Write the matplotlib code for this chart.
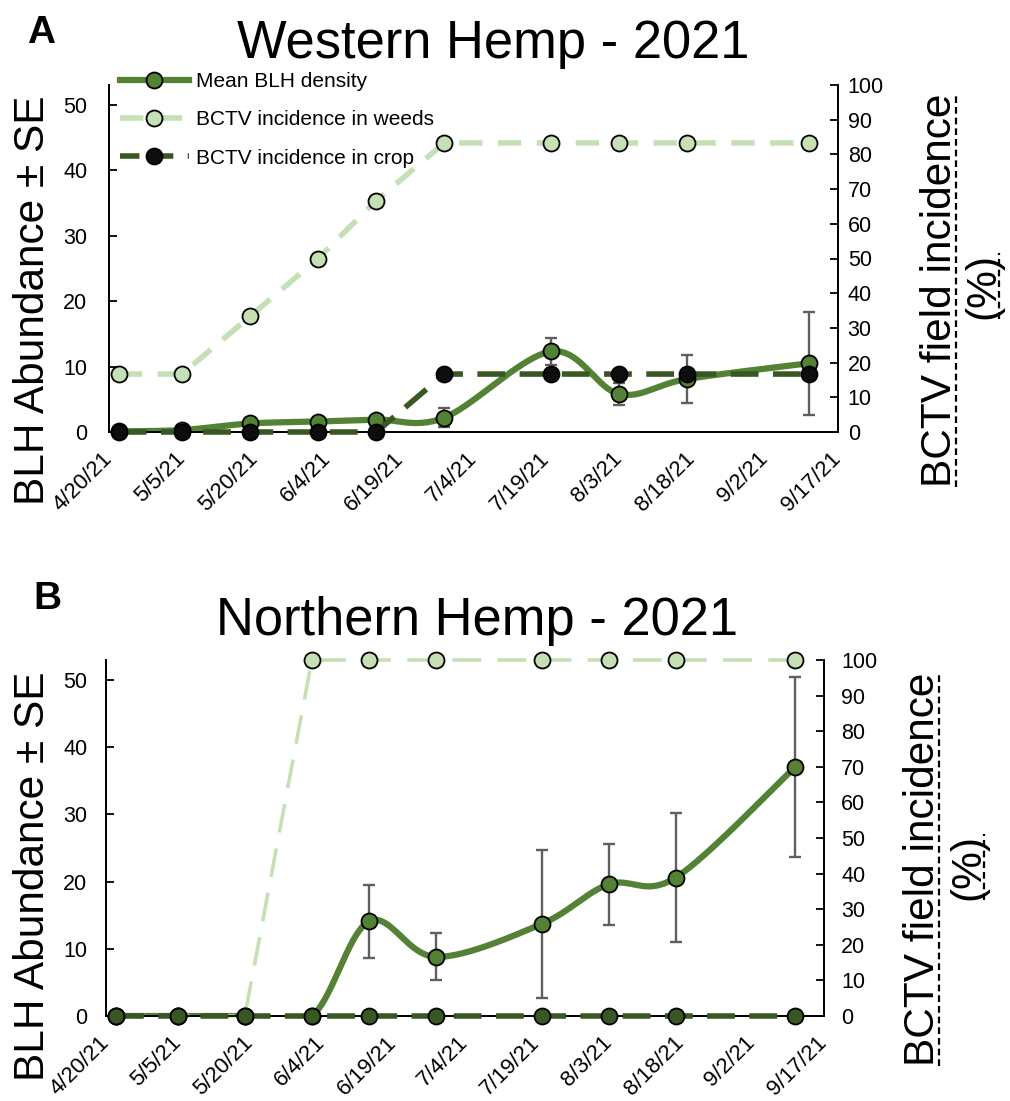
import numpy as np
import pandas as pd
import matplotlib
matplotlib.use("Agg")
import matplotlib.pyplot as plt
import matplotlib.dates as mdates
from matplotlib.lines import Line2D

plt.rcParams["font.family"] = ["Liberation Sans", "DejaVu Sans"]

# ---------------- data ----------------
sample_dates = ["2021-04-22", "2021-05-05", "2021-05-19", "2021-06-02", "2021-06-14",
                "2021-06-28", "2021-07-20", "2021-08-03", "2021-08-17", "2021-09-11"]
tick_labels = ["4/20/21", "5/5/21", "5/20/21", "6/4/21", "6/19/21", "7/4/21",
               "7/19/21", "8/3/21", "8/18/21", "9/2/21", "9/17/21"]

west_blh_mean = [0.1, 0.3, 1.3, 1.6, 1.9, 2.2, 12.3, 5.8, 8.1, 10.5]
west_blh_se = [0.1, 0.2, 0.3, 0.3, 0.4, 1.5, 2.1, 1.7, 3.7, 7.9]
west_weeds_pct = [16.7, 16.7, 33.3, 50.0, 66.7, 83.3, 83.3, 83.3, 83.3, 83.3]
west_crop_pct = [0, 0, 0, 0, 0, 16.7, 16.7, 16.7, 16.7, 16.7]

north_blh_mean = [0, 0, 0, 0, 14.1, 8.8, 13.7, 19.6, 20.6, 37.1]
north_blh_se = [0, 0, 0, 0, 5.4, 3.5, 11.0, 6.0, 9.6, 13.4]
north_weeds_pct = [0, 0, 0, 100, 100, 100, 100, 100, 100, 100]
north_crop_pct = [0, 0, 0, 0, 0, 0, 0, 0, 0, 0]

series_labels = ["Mean BLH density", "BCTV incidence in weeds", "BCTV incidence in crop"]

# ---------------- style ----------------
MEAN_C = "#548235"
WEEDS_C = "#c5e0b4"
CROP_C = "#385723"
ERR_C = "#5f5f5f"
MS = 11.5
W, H = 1010, 1101

x_pts = mdates.date2num(pd.to_datetime(sample_dates))
x_ticks = mdates.date2num(pd.to_datetime(tick_labels, format="%m/%d/%y"))


def fx(px):
    return px / W


def fy(py):
    return 1 - py / H


def smooth_curve(x, y, n=60):
    """Bezier smoothing through every point (control arms = neighbour chord / 6)."""
    x = np.asarray(x, float)
    y = np.asarray(y, float)
    px = np.concatenate([[x[0]], x, [x[-1]]])
    py = np.concatenate([[y[0]], y, [y[-1]]])
    t = np.linspace(0, 1, n)[:, None]
    out = []
    for i in range(len(x) - 1):
        p0 = np.array([px[i + 1], py[i + 1]])
        p3 = np.array([px[i + 2], py[i + 2]])
        c1 = p0 + (p3 - np.array([px[i], py[i]])) / 6
        c2 = p3 - (np.array([px[i + 3], py[i + 3]]) - p0) / 6
        seg = ((1 - t) ** 3) * p0 + 3 * ((1 - t) ** 2) * t * c1 + 3 * (1 - t) * t ** 2 * c2 + t ** 3 * p3
        out.append(seg if i == 0 else seg[1:])
    out = np.vstack(out)
    return out[:, 0], out[:, 1]


fig = plt.figure(figsize=(W / 100, H / 100), dpi=100)


def draw_panel(rect, mean, se, weeds, crop, crop_face, weeds_lw, weeds_dash,
               left_pad, right_pad, legend=False):
    ax = fig.add_axes(rect)
    ax2 = ax.twinx()
    ax.set_xlim(x_ticks[0], x_ticks[-1])
    ax.set_ylim(0, 53)
    ax2.set_ylim(0, 100)
    ax.set_yticks(np.arange(0, 51, 10))
    ax2.set_yticks(np.arange(0, 101, 10))
    ax.set_xticks(x_ticks)
    ax.set_xticklabels(tick_labels, rotation=45, ha="right", va="center",
                       rotation_mode="anchor", fontsize=16)
    ax.tick_params(axis="x", length=0, pad=17)
    ax.tick_params(axis="y", direction="in", length=6, width=1.3, labelsize=15.5, pad=left_pad)
    ax2.tick_params(axis="y", direction="in", length=6, width=1.3, labelsize=15.5, pad=right_pad)
    for a in (ax, ax2):
        a.spines["top"].set_visible(False)
        for s in ("left", "right", "bottom"):
            a.spines[s].set_linewidth(1.3)
    ax.patch.set_visible(False)

    # mean density, smoothed, with error bars
    sx, sy = smooth_curve(x_pts, mean)
    ax.plot(sx, sy, color=MEAN_C, lw=4.5, solid_capstyle="round", zorder=2)
    ax.errorbar(x_pts, mean, yerr=se, fmt="none", ecolor=ERR_C, elinewidth=1.7,
                capsize=4.5, capthick=1.7, zorder=3, clip_on=False)
    ax.plot(x_pts, mean, "o", ms=MS, mfc=MEAN_C, mec="black", mew=1.3,
            zorder=4, clip_on=False)

    # BCTV incidence (%) on the right axis
    ax2.plot(x_pts, weeds, color=WEEDS_C, lw=weeds_lw, dashes=weeds_dash,
             marker="o", ms=MS, mfc=WEEDS_C, mec="black", mew=1.3, zorder=2, clip_on=False)
    ax2.plot(x_pts, crop, color=CROP_C, lw=4, dashes=(5, 2.6),
             marker="o", ms=MS, mfc=crop_face, mec="black", mew=1.3, zorder=3, clip_on=False)

    if legend:
        handles = [
            Line2D([], [], color=MEAN_C, lw=4.5, marker="o", ms=MS, mfc=MEAN_C, mec="black", mew=1.3),
            Line2D([], [], color=WEEDS_C, lw=weeds_lw, dashes=weeds_dash, marker="o", ms=MS,
                   mfc=WEEDS_C, mec="black", mew=1.3),
            Line2D([], [], color=CROP_C, lw=4, dashes=(3.5, 2.6), marker="o", ms=MS,
                   mfc=crop_face, mec="black", mew=1.3),
        ]
        fig.legend(handles, series_labels, loc="upper left",
                   bbox_to_anchor=(fx(120), fy(72)), frameon=False, fontsize=15,
                   handlelength=3.3, handletextpad=0.35, labelspacing=0.93,
                   borderpad=0, borderaxespad=0)
    return ax, ax2


# Panel A: Western Hemp
draw_panel([fx(109), fy(432), fx(838) - fx(109), (432 - 85) / H],
           west_blh_mean, west_blh_se, west_weeds_pct, west_crop_pct, "#0d0d0d",
           4.0, (4.2, 2.8), left_pad=15.5, right_pad=7, legend=True)
# Panel B: Northern Hemp
draw_panel([fx(106), fy(1016), fx(824) - fx(106), (1016 - 660) / H],
           north_blh_mean, north_blh_se, north_weeds_pct, north_crop_pct, CROP_C,
           2.6, (8, 4.5), left_pad=13.5, right_pad=12.5)

# titles and panel letters
fig.text(fx(493), fy(58), "Western Hemp - 2021", fontsize=37.8, ha="center", va="baseline")
fig.text(fx(477), fy(635), "Northern Hemp - 2021", fontsize=37.8, ha="center", va="baseline")
fig.text(fx(27), fy(43), "A", fontsize=28, fontweight="bold", ha="left", va="baseline")
fig.text(fx(33), fy(609), "B", fontsize=28, fontweight="bold", ha="left", va="baseline")

LABEL_FS = 30.5
rot_kw = dict(rotation=90, rotation_mode="anchor", ha="center", va="baseline", fontsize=LABEL_FS)

# left axis titles
fig.text(fx(44), fy(300), "BLH Abundance \u00b1 SE", **rot_kw)
fig.text(fx(44), fy(876), "BLH Abundance \u00b1 SE", **rot_kw)

# right axis titles with dashed underline
underlined = [
    (951, 290, "BCTV field incidence"),
    (994, 286, "(%)"),
    (934, 869, "BCTV field incidence"),
    (979, 867, "(%)"),
]
texts = [(fig.text(fx(bx), fy(cy), s, **rot_kw), bx) for bx, cy, s in underlined]
fig.canvas.draw()
renderer = fig.canvas.get_renderer()
for t, bx in texts:
    bb = t.get_window_extent(renderer)
    ux = bx + 4.5
    fig.add_artist(Line2D([fx(ux), fx(ux)], [bb.y0 / H, bb.y1 / H], transform=fig.transFigure,
                          color="black", lw=1.6, dashes=(3.0, 1.8)))

fig.savefig("out.png", dpi=100)
